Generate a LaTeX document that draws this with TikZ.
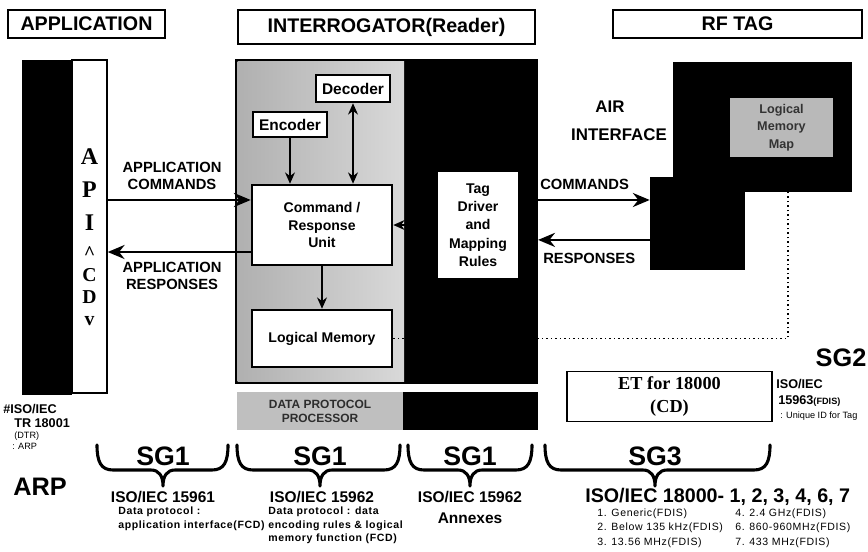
\documentclass[tikz,border=0pt]{standalone}
\usepackage{fontspec}
\setmainfont{Liberation Sans}
\newfontfamily\tnrfont{Liberation Serif}
\newfontfamily\spfont{Liberation Sans}[LetterSpace=6]
\usetikzlibrary{arrows.meta}

\newcommand\fsz[2]{\fontsize{#1}{#2}\selectfont\bfseries}

\tikzstyle{hdrbox} = [rectangle, draw, line width=0.8pt, font=\fsz{14}{16}, inner sep=0pt]
\tikzstyle{unitbox} = [rectangle, draw, line width=1.8pt, fill=white, align=center, font=\fsz{10}{12.5}, inner sep=0pt]
\tikzstyle{darkbox} = [rectangle, fill=black, inner sep=0pt]
\tikzstyle{lbl} = [align=center, font=\fsz{10.5}{12.5}, inner sep=0pt]
\tikzstyle{sglbl} = [font=\fsz{19}{20}, inner sep=0pt]
\tikzstyle{isolbl} = [font=\fsz{11}{13}, inner sep=0pt]
\tikzstyle{smalltxt} = [align=left, font=\spfont\fsz{7.5}{9.3}, inner sep=0pt]
\tikzstyle{listtxt} = [align=left, font=\spfont\fontsize{7.5}{10}\selectfont, inner sep=0pt]
\tikzstyle{flow} = [->, >={Stealth[length=12pt,width=10pt]}, line width=1.6pt]
\tikzstyle{darkflow} = [->, >={Stealth[length=8pt,width=7pt]}, line width=2pt]
\tikzstyle{bracel} = [line width=2.2pt, line cap=round, line join=round]

\begin{document}
\begin{tikzpicture}[x=0.025cm, y=-0.025cm]
    \useasboundingbox (0,0) rectangle (868,552);

    % headers
    \node (apphdr) [hdrbox, minimum width=3.925cm, minimum height=0.7cm] at (86.5,24) {APPLICATION};
    \node (rdrhdr) [hdrbox, minimum width=7.425cm, minimum height=0.85cm] at (386.5,27) {INTERROGATOR(Reader)};
    \node (taghdr) [hdrbox, minimum width=6.225cm, minimum height=0.7cm] at (737.5,24) {RF TAG};

    % API column
    \fill (22,60) rectangle (72,395);
    \node (api) [rectangle, draw, line width=1pt, fill=white, minimum width=0.875cm, minimum height=8.325cm] at (89.5,226.5) {};
    \node (apitop) [align=center, font=\tnrfont\fsz{17}{23.4}, inner sep=0pt] at (89.5,190) {A\\P\\I};
    \node (apibot) [align=center, font=\tnrfont\fsz{14}{15.5}, inner sep=0pt] at (89.5,286) {\textasciicircum\\C\\D\\v};

    % interrogator
    \node (reader) [rectangle, draw, line width=1.5pt, fill=black, minimum width=7.525cm, minimum height=8.075cm] at (386.5,221.5) {};
    \shade[left color=gray!62, right color=gray!30] (237.5,61.5) rectangle (404,381.5);

    \node (dec) [unitbox, font=\fsz{11}{12}, minimum width=1.85cm, minimum height=0.675cm] at (353,88.5) {Decoder};
    \node (enc) [unitbox, font=\fsz{11}{12}, minimum width=1.85cm, minimum height=0.625cm] at (290,124.5) {Encoder};
    \node (cmd) [unitbox, minimum width=3.5cm, minimum height=2cm] at (322,225) {Command /\\Response\\Unit};
    \node (lmem) [unitbox, minimum width=3.5cm, minimum height=1.425cm] at (322,338.5) {Logical Memory};
    \node (tagdrv) [unitbox, draw=none, font=\fsz{10}{13}, minimum width=2cm, minimum height=2.65cm] at (478,225) {Tag\\Driver\\and\\Mapping\\Rules};

    \draw [darkflow] (enc.south) -- (enc.south |- cmd.north);
    \draw [darkflow, <->] (dec.south) -- (dec.south |- cmd.north);
    \draw [darkflow] (cmd.south) -- (lmem.north);
    \draw [darkflow] (tagdrv.west) -- (cmd.east);

    % processor strip
    \node (dpp) [rectangle, fill=gray!50, minimum width=4.15cm, minimum height=0.95cm, align=center, font=\fsz{8.5}{10}, text=gray!35!black] at (320,411) {DATA PROTOCOL\\PROCESSOR};
    \node (dppblk) [darkbox, minimum width=3.35cm, minimum height=0.95cm] at (470.5,411) {};

    % application arrows
    \coordinate (cmdin) at ([yshift=0.625cm]cmd.west);
    \coordinate (cmdout) at ([yshift=-0.675cm]cmd.west);
    \draw [flow] (api.east |- cmdin) -- (cmdin);
    \draw [flow] (cmdout) -- (api.east |- cmdout);
    \node (appcmd) [lbl] at (172,176) {APPLICATION\\COMMANDS};
    \node (appresp) [lbl] at (172,276) {APPLICATION\\RESPONSES};

    % RF tag
    \node (tagup) [darkbox, minimum width=4.475cm, minimum height=3.225cm] at (762.5,127) {};
    \node (taglo) [darkbox, minimum width=2.375cm, minimum height=2.325cm] at (697.5,223.5) {};
    \node (lmm) [rectangle, fill=gray!55, minimum width=2.575cm, minimum height=1.475cm, align=center, font=\fsz{9}{12.5}, text=black!80] at (781.5,127.5) {Logical\\Memory\\Map};

    % air interface
    \node (air) [lbl, font=\fsz{12}{14}] at (610,107) {AIR};
    \node (airif) [lbl, font=\fsz{12}{14}] at (619,135) {INTERFACE};
    \draw [flow] (reader.east |- cmdin) -- (taglo.west |- cmdin);
    \coordinate (tagout) at ([yshift=-0.41cm]taglo.west);
    \draw [flow] (tagout) -- (reader.east |- tagout);
    \node (rfcmd) [lbl, anchor=west] at (540,184) {COMMANDS};
    \node (rfresp) [lbl, anchor=west] at (543,258) {RESPONSES};

    \coordinate (tagmem) at ([xshift=0.64cm]tagup.south);
    \draw [dotted, line width=1.2pt] (lmem.east) -| (tagmem);

    % ET box and SG2
    \node (et) [rectangle, draw, line width=1pt, minimum width=5.125cm, minimum height=1.175cm, align=center, font=\tnrfont\fsz{13}{17}] at (669.5,396.5) {ET for 18000\\(CD)};
    \node (sg2) [sglbl, font=\fsz{18}{20}] at (841,358) {SG2};
    \node (sg2iso) [align=left, font=\fsz{9}{11}, inner sep=0pt, anchor=west] at (776,384) {ISO/IEC};
    \node (sg2num) [align=left, font=\fsz{9}{11}, inner sep=0pt, anchor=west] at (778,401) {15963{\fsz{6.5}{8}(FDIS)}};
    \node (sg2txt) [listtxt, font=\fontsize{6.5}{8}\selectfont, anchor=west] at (780,416) {: Unique ID for Tag};

    % ARP note
    \node (arpiso) [align=left, font=\fsz{9}{11}, inner sep=0pt, anchor=west] at (3,409) {\#ISO/IEC};
    \node (arptr) [align=left, font=\fsz{9}{11}, inner sep=0pt, anchor=west] at (14,423) {TR 18001};
    \node (arpdtr) [listtxt, font=\fontsize{6.5}{8}\selectfont, anchor=west] at (14,436) {(DTR)};
    \node (arparp) [listtxt, font=\fontsize{6.5}{8}\selectfont, anchor=west] at (12,446) {: ARP};
    \node (arp) [sglbl, font=\fsz{18}{20}] at (40,487) {ARP};

    % braces
    \foreach \xl/\xm/\xr in {97/163/228, 237/320/400, 408/470/532, 545/655/770}
        \draw [bracel] (\xl,445) .. controls (\xl,462) and (\xl+4,470) .. (\xl+16,470) -- (\xm-12,470)
            .. controls (\xm-4,470) and (\xm,476) .. (\xm,486) .. controls (\xm,476) and (\xm+4,470) .. (\xm+12,470)
            -- (\xr-16,470) .. controls (\xr-4,470) and (\xr,462) .. (\xr,445);
    \node (sg1a) [sglbl] at (163,456) {SG1};
    \node (sg1b) [sglbl] at (320,456) {SG1};
    \node (sg1c) [sglbl] at (470,456) {SG1};
    \node (sg3) [sglbl] at (655,456) {SG3};

    % standards
    \node (iso61) [isolbl] at (163,497) {ISO/IEC 15961};
    \node (iso61txt) [smalltxt, anchor=north west] at (118,507) {Data protocol :\\application interface(FCD)};
    \node (iso62) [isolbl] at (322,497) {ISO/IEC 15962};
    \node (iso62txt) [smalltxt, anchor=north west] at (268,507) {Data protocol : data\\encoding rules \& logical\\memory function (FCD)};
    \node (iso62a) [isolbl] at (470,497) {ISO/IEC 15962};
    \node (annex) [isolbl] at (470,518) {Annexes};
    \node (iso18) [isolbl, font=\fsz{14}{16}, anchor=west] at (585,497) {ISO/IEC 18000- 1, 2, 3, 4, 6, 7};
    \node (listl) [listtxt, anchor=north west] at (597,509) {1. Generic(FDIS)\\2. Below 135 kHz(FDIS)\\3. 13.56 MHz(FDIS)};
    \node (listr) [listtxt, anchor=north west] at (735,509) {4. 2.4 GHz(FDIS)\\6. 860-960MHz(FDIS)\\7. 433 MHz(FDIS)};
\end{tikzpicture}
\end{document}
